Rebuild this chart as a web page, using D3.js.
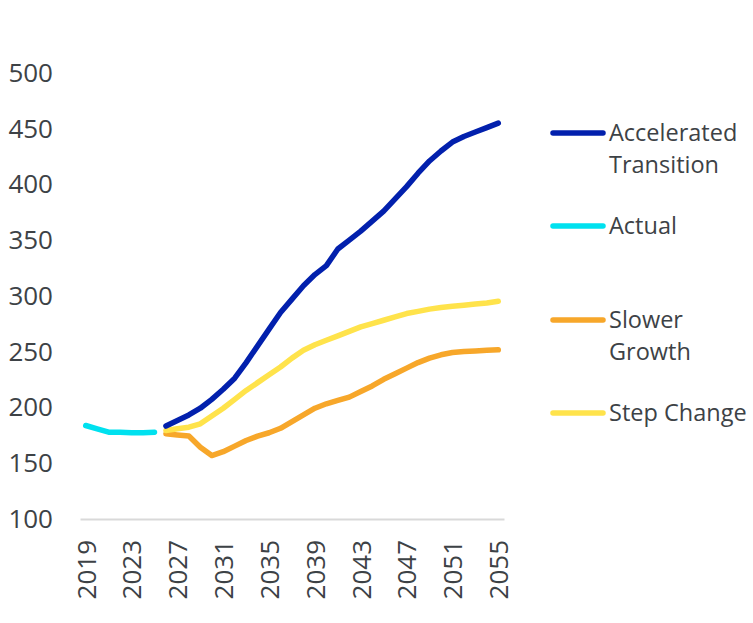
<!DOCTYPE html>
<html>
<head>
<meta charset="utf-8">
<script src="https://cdn.jsdelivr.net/npm/d3@7"></script>
<style>
  body { margin: 0; background: #fff; }
  text { font-family: "Open Sans", sans-serif; }
</style>
</head>
<body>
<div class="chart"></div>
<script>
// years and series values
var years = d3.range(2019, 2056);
var actualYears = [2019, 2020, 2021, 2022, 2023, 2024, 2025];
var actual = [183.5, 180.5, 177.5, 177.5, 177, 177, 177.5];

var projYears = d3.range(2026, 2056);
var accelerated = [183, 188, 193, 199, 207, 216, 226, 240, 255, 270,
                   285, 297, 309, 319, 327, 342, 350, 358, 367, 376,
                   387, 398, 410, 421, 430, 438, 443, 447, 451, 455];
var slower = [176, 175, 174, 164, 156.5, 160, 165, 170, 174, 177,
              181, 187, 193, 199, 203, 206, 209, 214, 219, 225,
              230, 235, 240, 244, 247, 249, 250, 250.5, 251, 251.5];
var stepChange = [179, 180.5, 182, 185, 192, 199, 207, 215, 222, 229,
                  236, 244, 251, 256, 260, 264, 268, 272, 275, 278,
                  281, 284, 286, 288, 289.5, 290.5, 291.5, 292.5, 293.5, 295];

var yTicks = [100, 150, 200, 250, 300, 350, 400, 450, 500];
var xTicks = [2019, 2023, 2027, 2031, 2035, 2039, 2043, 2047, 2051, 2055];

var seriesNames = ["Accelerated Transition", "Actual", "Slower Growth", "Step Change"];
var seriesColors = ["#0220ad", "#00e1ef", "#f7a72a", "#ffe34b"];

var svgWidth = 753;
var svgHeight = 623;

var svg = d3.select(".chart")
  .append("svg")
  .attr("width", svgWidth)
  .attr("height", svgHeight);

var x = d3.scalePoint()
  .domain(years)
  .range([80, 504])
  .padding(0.5);

var y = d3.scaleLinear()
  .domain([100, 500])
  .range([518.5, 73]);

// y labels (no axis line)
svg.append("g")
  .selectAll("text")
  .data(yTicks)
  .enter()
  .append("text")
  .attr("x", 53)
  .attr("y", d => y(d))
  .attr("dy", "0.35em")
  .attr("text-anchor", "end")
  .attr("font-size", "26px")
  .attr("fill", "#3d4246")
  .text(d => d);

// x axis
var xAxis = d3.axisBottom(x)
  .tickValues(xTicks)
  .tickSize(0)
  .tickPadding(0)
  .tickSizeOuter(0);

var xg = svg.append("g")
  .attr("transform", "translate(0, 519)")
  .call(xAxis);

xg.select(".domain")
  .attr("stroke", "#d9d9d9")
  .attr("stroke-width", 2);

xg.selectAll(".tick text")
  .attr("font-family", "Open Sans, sans-serif")
  .attr("font-size", "26px")
  .attr("fill", "#3d4246")
  .attr("text-anchor", "end")
  .attr("transform", "translate(0, 21) rotate(-90)")
  .attr("x", 0)
  .attr("y", 0)
  .attr("dy", "0.36em");

var line = d3.line()
  .x(d => x(d[0]))
  .y(d => y(d[1]));

var lineData = [
  { name: seriesNames[0], color: seriesColors[0], pts: d3.zip(projYears, accelerated) },
  { name: seriesNames[1], color: seriesColors[1], pts: d3.zip(actualYears, actual) },
  { name: seriesNames[2], color: seriesColors[2], pts: d3.zip(projYears, slower) },
  { name: seriesNames[3], color: seriesColors[3], pts: d3.zip(projYears, stepChange) }
];

// draw order: slower, step change, accelerated, actual
var drawOrder = [2, 3, 0, 1];
svg.append("g")
  .selectAll("path")
  .data(drawOrder.map(i => lineData[i]))
  .enter()
  .append("path")
  .attr("d", d => line(d.pts))
  .attr("fill", "none")
  .attr("stroke", d => d.color)
  .attr("stroke-width", 5.5)
  .attr("stroke-linecap", "round")
  .attr("stroke-linejoin", "round");

// legend
var legendY = [133, 226, 320, 413];
var legend = svg.append("g")
  .selectAll("g")
  .data(lineData)
  .enter()
  .append("g")
  .attr("transform", (d, i) => `translate(0, ${legendY[i]})`);

legend.append("line")
  .attr("x1", 553)
  .attr("x2", 603)
  .attr("stroke", d => d.color)
  .attr("stroke-width", 5.5)
  .attr("stroke-linecap", "round");

legend.append("text")
  .attr("x", 609)
  .attr("y", 0)
  .attr("font-size", "23.5px")
  .attr("fill", "#3d4246")
  .each(function(d) {
    var words = d.name.split(" ");
    var lines = d.name === "Step Change" ? [d.name] : words;
    d3.select(this).selectAll("tspan")
      .data(lines)
      .enter()
      .append("tspan")
      .attr("x", 609)
      .attr("dy", (w, j) => j === 0 ? "0.35em" : "1.36em")
      .text(w => w);
  });
</script>
</body>
</html>
